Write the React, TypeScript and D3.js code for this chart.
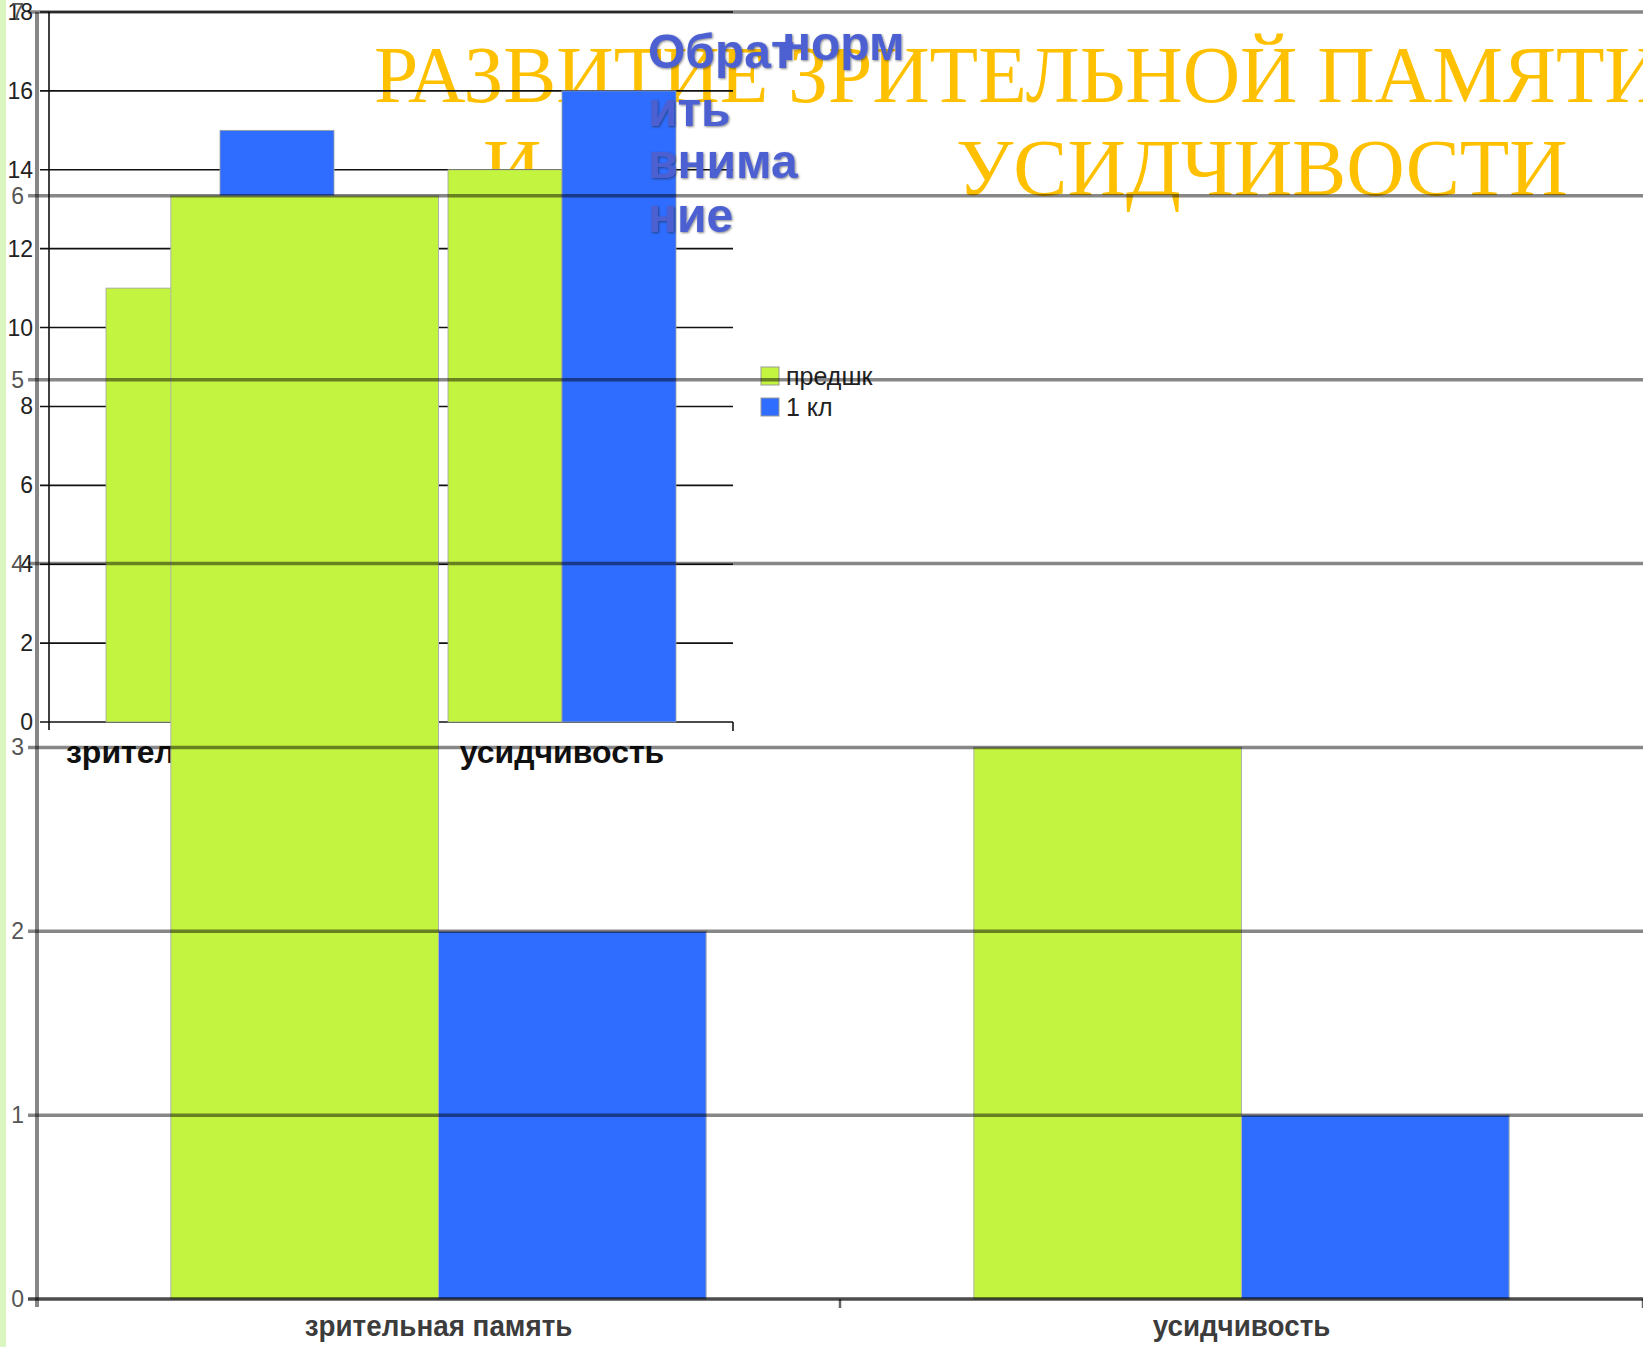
import React from "react";
import * as d3 from "d3";

// two overlapping copies of the same chart, drawn at different scales
const categories = ["зрительная память", "усидчивость"];
const seriesNames = ["предшк", "1 кл"];
const seriesColors = ["#c3f43f", "#2e6dff"];

// small (front) chart
const frontPredshk = [11, 14];
const frontFirstGrade = [15, 16];

// large (back) chart
const backPredshk = [6, 3];
const backFirstGrade = [2, 1];

const titleLine1 = "РАЗВИТИЕ ЗРИТЕЛЬНОЙ ПАМЯТИ";
const titleLine2a = "И";
const titleLine2b = "УСИДЧИВОСТИ";
const noteLines = ["Обрат", "ить", "внима", "ние"];
const noteExtra = "норм";

const W = 1643;
const H = 1347;

type Row = { cat: string; values: number[] };

const frontRows: Row[] = categories.map((c, i) => ({
  cat: c,
  values: [frontPredshk[i], frontFirstGrade[i]],
}));
const backRows: Row[] = categories.map((c, i) => ({
  cat: c,
  values: [backPredshk[i], backFirstGrade[i]],
}));

const sans = "'Liberation Sans', Arial, sans-serif";
const serif = "'Liberation Serif', 'Times New Roman', serif";

const FrontChart: React.FC = () => {
  const left = 49;
  const right = 733;
  const y = d3.scaleLinear().domain([0, 18]).range([722, 12]);
  const x = d3.scaleBand().domain(categories).range([left, right]).padding(0);
  const bw = x.bandwidth();
  const xs = d3
    .scaleBand()
    .domain(seriesNames)
    .range([bw / 6, (bw * 5) / 6])
    .padding(0);

  return (
    <g>
      {y.ticks(10).map((t) => (
        <g key={t}>
          <line x1={40} x2={right} y1={y(t)} y2={y(t)} stroke="#111" strokeWidth={1.6} />
          <text
            x={33}
            y={y(t)}
            dy="0.35em"
            textAnchor="end"
            fontFamily={sans}
            fontSize={23}
            fill="#222"
          >
            {t}
          </text>
        </g>
      ))}
      <line x1={left} x2={left} y1={12} y2={730} stroke="#111" strokeWidth={1.6} />
      <line x1={right} x2={right} y1={y(0)} y2={y(0) + 9} stroke="#111" strokeWidth={1.6} />
      {frontRows.map((r) => (
        <g key={r.cat} transform={`translate(${x(r.cat)},0)`}>
          {r.values.map((v, j) => (
            <rect
              key={j}
              x={xs(seriesNames[j])}
              y={y(v)}
              width={xs.bandwidth()}
              height={y(0) - y(v)}
              fill={seriesColors[j]}
              stroke="#a0a0a0"
              strokeWidth={0.8}
            />
          ))}
          <text
            x={bw / 2}
            y={763}
            textAnchor="middle"
            fontFamily={sans}
            fontWeight="bold"
            fontSize={32}
            fill="#111"
          >
            {r.cat}
          </text>
        </g>
      ))}
      {seriesNames.map((s, j) => (
        <g key={s} transform={`translate(761,${367 + j * 31})`}>
          <rect width={18} height={18} fill={seriesColors[j]} stroke="#999" strokeWidth={1} />
          <text x={25} y={18} fontFamily={sans} fontSize={25} fill="#222">
            {s}
          </text>
        </g>
      ))}
    </g>
  );
};

const BackChart: React.FC = () => {
  const left = 37;
  const right = W;
  const y = d3.scaleLinear().domain([0, 7]).range([1299, 12]);
  const x = d3.scaleBand().domain(categories).range([left, right]).padding(0);
  const bw = x.bandwidth();
  const xs = d3
    .scaleBand()
    .domain(seriesNames)
    .range([bw / 6, (bw * 5) / 6])
    .padding(0);
  const grid = "rgba(0,0,0,0.47)";

  return (
    <g>
      {backRows.map((r) => (
        <g key={r.cat} transform={`translate(${x(r.cat)},0)`}>
          {r.values.map((v, j) => (
            <rect
              key={j}
              x={xs(seriesNames[j])}
              y={y(v)}
              width={xs.bandwidth()}
              height={y(0) - y(v)}
              fill={seriesColors[j]}
              stroke="#b0b0b0"
              strokeWidth={1}
            />
          ))}
          <text
            transform={`translate(${bw / 2},1336) scale(1.07,1.15)`}
            textAnchor="middle"
            fontFamily={sans}
            fontWeight="bold"
            fontSize={26}
            fill="#3c3c3c"
          >
            {r.cat}
          </text>
        </g>
      ))}
      {y.ticks(7).map((t) => (
        <g key={t}>
          <line
            x1={28}
            x2={right}
            y1={y(t)}
            y2={y(t)}
            stroke={t === 0 ? "rgba(0,0,0,0.7)" : grid}
            strokeWidth={3.5}
          />
          <text
            x={24}
            y={y(t)}
            dy="0.35em"
            textAnchor="end"
            fontFamily={sans}
            fontSize={23}
            fill="#555"
          >
            {t}
          </text>
        </g>
      ))}
      <line x1={left} x2={left} y1={12} y2={1307} stroke={grid} strokeWidth={4} />
      {categories.map((c) => (
        <line
          key={c}
          x1={(x(c) as number) + bw}
          x2={(x(c) as number) + bw}
          y1={y(0)}
          y2={y(0) + 9}
          stroke="rgba(0,0,0,0.6)"
          strokeWidth={2.5}
        />
      ))}
    </g>
  );
};

const App: React.FC = () => {
  return (
    <svg
      width={W}
      height={H}
      viewBox={`0 0 ${W} ${H}`}
      style={{ position: "absolute", left: 0, top: 0, background: "#fff" }}
    >
      <defs>
        <filter id="soft" x="-10%" y="-10%" width="120%" height="120%">
          <feDropShadow dx={1} dy={1} stdDeviation={1.2} floodColor="#222" floodOpacity={0.55} />
        </filter>
      </defs>
      <rect width={W} height={H} fill="#fff" />
      <rect width={6} height={H} fill="#dcf6c2" />

      <g fontFamily={serif} fontSize={81} fill="#ffc000">
        <text x={374} y={102} fontSize={79.5}>{titleLine1}</text>
        <text x={483} y={195}>{titleLine2a}</text>
        <text x={956} y={195}>{titleLine2b}</text>
      </g>

      <FrontChart />

      <g fontFamily={sans} fontWeight="bold" fontSize={48} fill="#4d61d2" filter="url(#soft)">
        {noteLines.map((t, i) => (
          <text key={i} x={648} y={[68, 126, 178, 232][i]}>
            {t}
          </text>
        ))}
        <text x={782} y={60}>{noteExtra}</text>
      </g>

      <BackChart />
    </svg>
  );
};

export default App;
